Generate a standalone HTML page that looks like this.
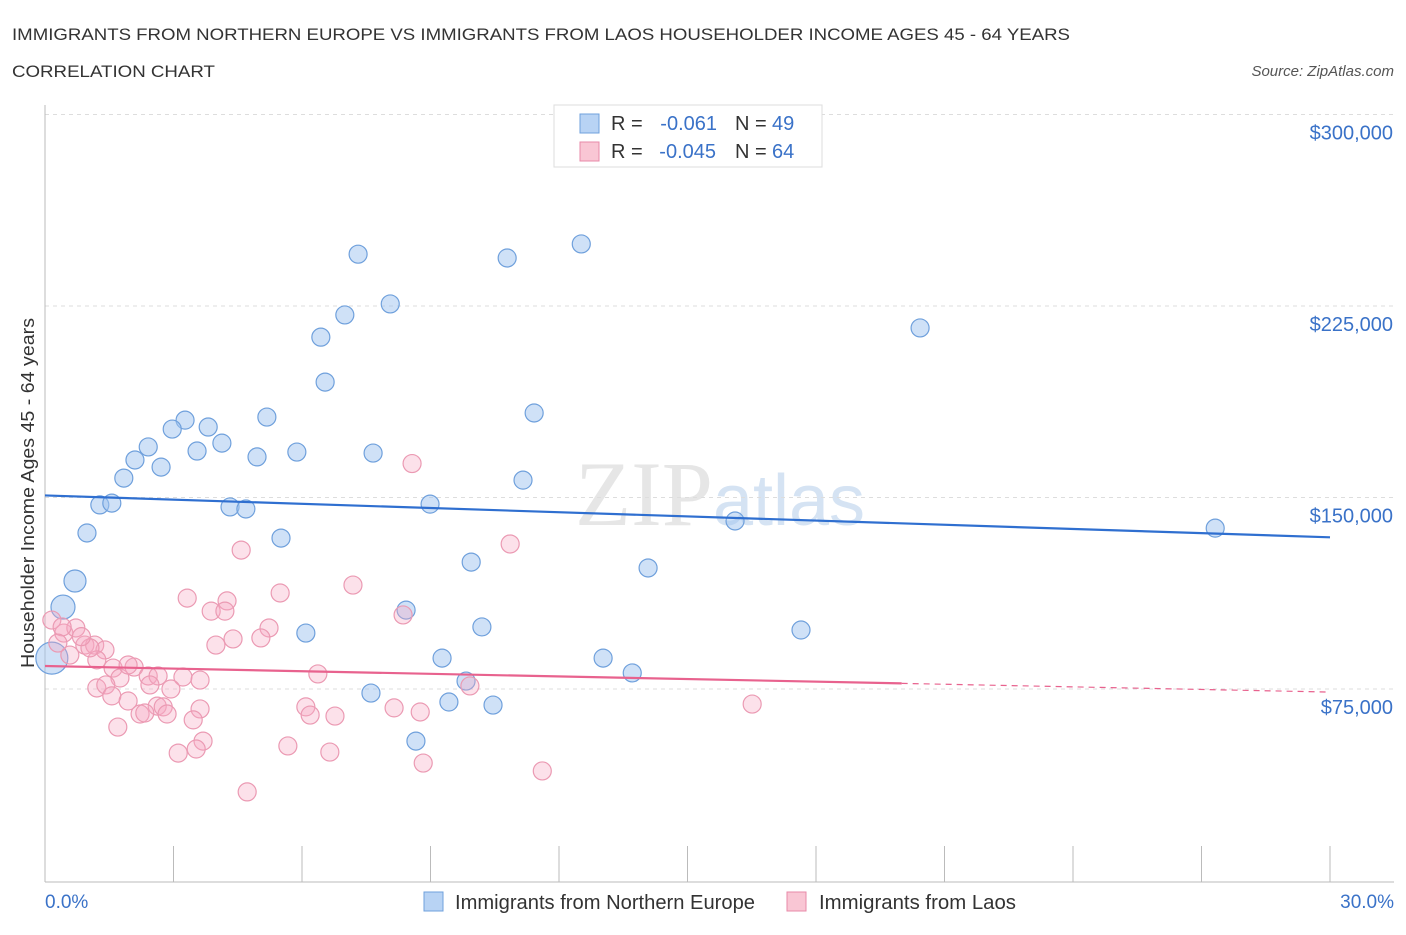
<!DOCTYPE html>
<html><head><meta charset="utf-8"><style>
body{margin:0;background:#fff;font-family:"Liberation Sans",sans-serif}
svg text{font-family:"Liberation Sans",sans-serif}
</style></head><body>
<svg id="c" width="1406" height="930" xmlns="http://www.w3.org/2000/svg">
<text x="12" y="40" font-size="17" fill="#333" textLength="1058" lengthAdjust="spacingAndGlyphs">IMMIGRANTS FROM NORTHERN EUROPE VS IMMIGRANTS FROM LAOS HOUSEHOLDER INCOME AGES 45 - 64 YEARS</text>
<text x="12" y="77" font-size="17" fill="#333" textLength="203" lengthAdjust="spacingAndGlyphs">CORRELATION CHART</text>
<text x="1394" y="76" font-size="15" fill="#555" font-style="italic" text-anchor="end">Source: ZipAtlas.com</text>
<text x="720" y="525" font-size="92" fill="#e6e6e6" text-anchor="middle" font-family="Liberation Serif"><tspan font-family="Liberation Serif">ZIP</tspan><tspan fill="#d5e3f3" font-family="Liberation Sans" font-size="72">atlas</tspan></text>
<g id="grid"></g><g id="pts"></g><g id="lines"></g>
<text transform="translate(34,493) rotate(-90)" font-size="18" fill="#333" text-anchor="middle" textLength="350" lengthAdjust="spacingAndGlyphs">Householder Income Ages 45 - 64 years</text>
<text x="45" y="908" font-size="19" fill="#3a72c8">0.0%</text>
<text x="1394" y="908" font-size="19" fill="#3a72c8" text-anchor="end">30.0%</text>
<g>
<rect x="554" y="105" width="268" height="62" fill="#fff" stroke="#ddd"/>
<rect x="580" y="114" width="19" height="19" fill="#b8d3f4" stroke="#6fa0dc"/>
<rect x="580" y="142" width="19" height="19" fill="#f9c6d4" stroke="#e88aa8"/>
<text x="611" y="130" font-size="20" fill="#333">R =</text>
<text x="717" y="130" font-size="20" fill="#3a72c8" text-anchor="end">-0.061</text>
<text x="735" y="130" font-size="20" fill="#333">N =</text>
<text x="772" y="130" font-size="20" fill="#3a72c8">49</text>
<text x="611" y="158" font-size="20" fill="#333">R =</text>
<text x="716" y="158" font-size="20" fill="#3a72c8" text-anchor="end">-0.045</text>
<text x="735" y="158" font-size="20" fill="#333">N =</text>
<text x="772" y="158" font-size="20" fill="#3a72c8">64</text>
</g>
<g>
<rect x="424" y="892" width="19" height="19" fill="#b8d3f4" stroke="#6fa0dc"/>
<text x="455" y="909" font-size="20" fill="#333" textLength="300" lengthAdjust="spacingAndGlyphs">Immigrants from Northern Europe</text>
<rect x="787" y="892" width="19" height="19" fill="#f9c6d4" stroke="#e88aa8"/>
<text x="819" y="909" font-size="20" fill="#333" textLength="197" lengthAdjust="spacingAndGlyphs">Immigrants from Laos</text>
</g>
</svg>
<script>
const yTicks=[75000,150000,225000,300000];
const yTickLabels=["$75,000","$150,000","$225,000","$300,000"];
const xTicks=[0,3,6,9,12,15,18,21,24,27,30];
const blueX=[7.31,10.79,12.52,8.06,7.00,6.44,20.43,6.54,11.42,3.27,5.18,2.97,3.81,2.41,4.13,3.55,2.10,2.71,4.95,5.88,7.66,11.16,1.84,1.28,1.56,4.32,4.69,8.99,16.11,27.32,0.98,5.51,9.95,14.08,0.70,0.42,8.43,10.20,6.09,17.65,9.27,13.03,13.71,9.83,7.61,9.43,10.46,8.66,0.16];
const blueY=[245300,243800,249300,225800,221500,212800,216400,195200,183100,180300,181500,176800,177600,169800,171300,168200,164700,161900,165900,167800,167400,156800,157600,147100,147800,146300,145500,147400,140800,138000,136100,134100,124700,122400,117300,107100,105900,99300,96900,98100,87100,87100,81300,78100,73400,69900,68700,54600,87100];
const blueR=[9,9,9,9,9,9,9,9,9,9,9,9,9,9,9,9,9,9,9,9,9,9,9,9,9,9,9,9,9,9,9,9,9,9,11,12,9,9,9,9,9,9,9,9,9,9,9,9,16];
const pinkX=[8.57,10.86,4.58,7.19,3.32,4.25,5.49,3.88,4.20,8.36,5.23,4.39,5.04,3.99,0.16,0.44,0.72,0.93,1.16,1.40,0.58,1.21,1.59,2.08,1.75,2.41,2.64,3.22,6.37,1.21,1.42,2.94,1.56,1.94,2.62,2.76,3.62,6.09,8.15,8.76,2.22,2.33,2.85,6.19,6.77,9.92,16.51,3.46,1.70,3.69,5.67,3.11,3.53,6.65,8.83,11.61,4.72,0.40,1.05,2.45,1.94,3.62,0.30,0.85];
const pinkY=[163300,131800,129400,115700,110600,109500,112600,105500,105500,104000,98900,94600,95000,92200,102000,96900,98900,92200,92200,90300,88300,86400,83200,83600,79300,80100,80100,79700,80900,75400,76600,75000,72300,70300,68300,68000,67200,68000,67600,66000,65200,65600,65200,64800,64400,76200,69100,62900,60100,54600,52700,49900,51500,50300,46000,42900,34700,99300,91100,76600,84400,78500,93000,95500];
const trendBlue=[150800,134400];
const trendPink=[84000,73800];
const pinkSolidEnd=20;
const X=v=>45+v/30*1285, Y=v=>880.5-v/75000*191.5;
const NS="http://www.w3.org/2000/svg";
function mk(t,a,p){const e=document.createElementNS(NS,t);for(const k in a)e.setAttribute(k,a[k]);p.appendChild(e);return e;}
const grid=document.getElementById('grid'),pts=document.getElementById('pts'),lines=document.getElementById('lines');
yTicks.forEach((v,i)=>{
 const l=mk('line',{x1:45,x2:1394,y1:Y(v),y2:Y(v),stroke:'#ddd','stroke-dasharray':'4 4'},grid);
 
 
 const t=mk('text',{x:1393,y:Y(v)+25,'font-size':20,fill:'#3a72c8','text-anchor':'end'},grid);t.textContent=yTickLabels[i];
 
 
});
const ax=mk('line',{x1:45,x2:45,y1:105,y2:882,stroke:'#bbb'},grid);


const bx=mk('line',{x1:45,x2:1394,y1:882,y2:882,stroke:'#bbb'},grid);


xTicks.forEach(v=>{const t=mk('line',{x1:X(v),x2:X(v),y1:846,y2:882,stroke:'#bbb'},grid);
 
 });
blueX.forEach((x,i)=>{const c=mk('circle',{cx:X(x),cy:Y(blueY[i]),r:blueR[i],fill:'rgba(160,196,240,0.5)',stroke:'#6fa0dc','stroke-width':1.2},pts);
 
 });
pinkX.forEach((x,i)=>{const c=mk('circle',{cx:X(x),cy:Y(pinkY[i]),r:9,fill:'rgba(245,170,195,0.35)',stroke:'#eb9ab3','stroke-width':1.2},pts);
 
 });
const tb=mk('line',{x1:X(0),y1:Y(trendBlue[0]),x2:X(30),y2:Y(trendBlue[1]),stroke:'#2f6fd0','stroke-width':2.2},lines);


const pm=trendPink[0]+(trendPink[1]-trendPink[0])*pinkSolidEnd/30;
const tp=mk('line',{x1:X(0),y1:Y(trendPink[0]),x2:X(pinkSolidEnd),y2:Y(pm),stroke:'#e8628e','stroke-width':2.2},lines);


const td=mk('line',{x1:X(pinkSolidEnd),y1:Y(pm),x2:X(30),y2:Y(trendPink[1]),stroke:'#e8628e','stroke-width':1.2,'stroke-dasharray':'6 5'},lines);


</script>
</body></html>
